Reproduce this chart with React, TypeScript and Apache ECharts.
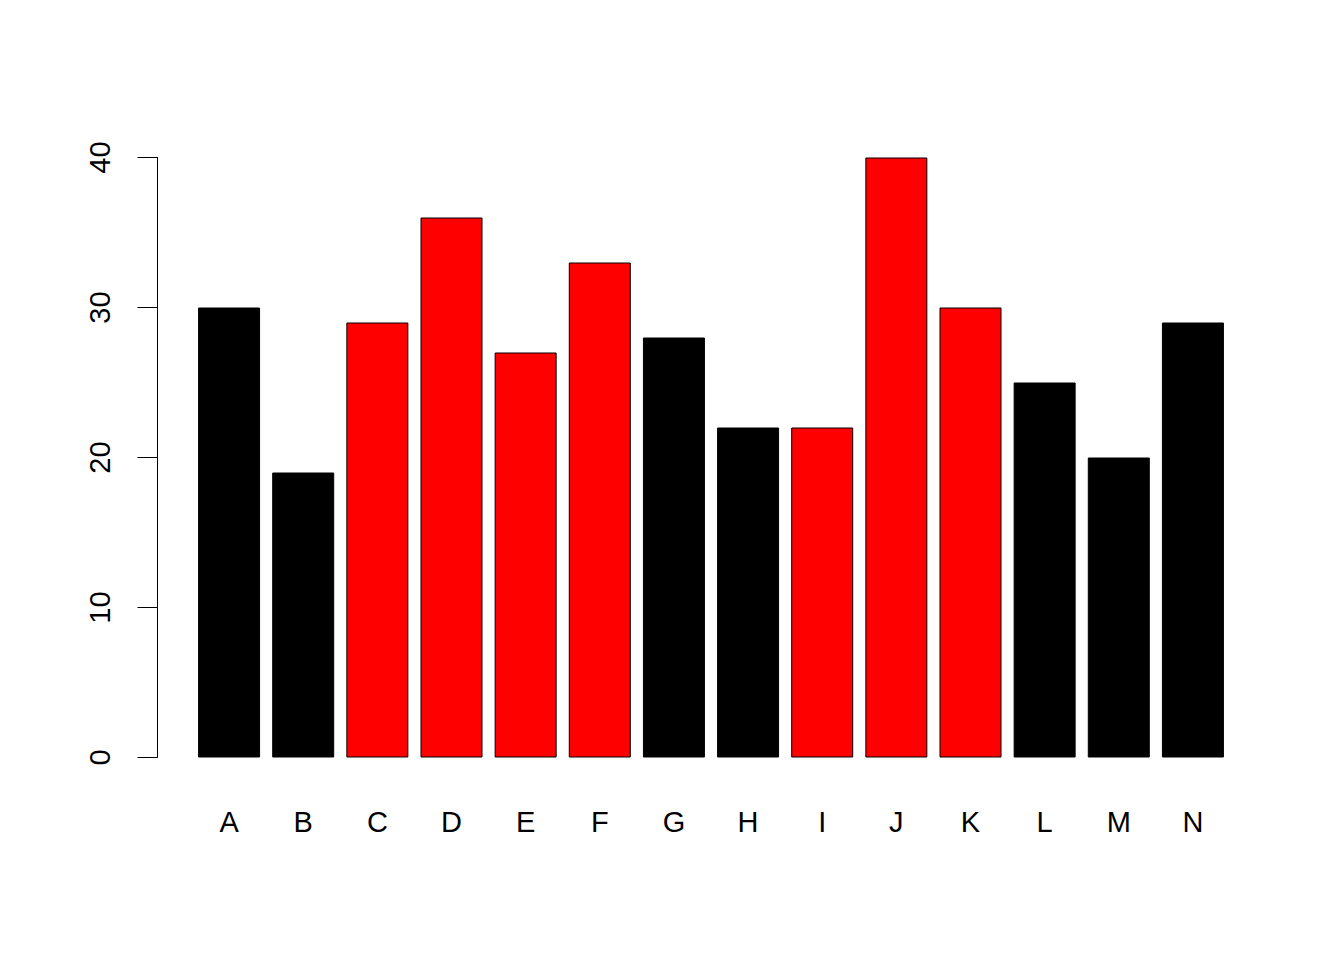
import React, { useEffect, useRef } from "react";
import * as echarts from "echarts";

const categories = ["A", "B", "C", "D", "E", "F", "G", "H", "I", "J", "K", "L", "M", "N"];
const values = [30, 19, 29, 36, 27, 33, 28, 22, 22, 40, 30, 25, 20, 29];
const barColors = ["#000000", "#000000", "#FF0000", "#FF0000", "#FF0000", "#FF0000", "#000000", "#000000", "#FF0000", "#FF0000", "#FF0000", "#000000", "#000000", "#000000"];
const yTicks = [0, 10, 20, 30, 40];

export default function App() {
  const ref = useRef<HTMLDivElement>(null);
  useEffect(() => {
    if (!ref.current) return;
    const chart = echarts.init(ref.current, null, { renderer: "svg" });
    const font = "'Liberation Sans', Arial, Helvetica, sans-serif";
    chart.setOption({
      animation: false,
      backgroundColor: "#ffffff",
      grid: { left: 192, right: 114, top: 157.5, bottom: 202.5, containLabel: false },
      xAxis: {
        type: "category",
        data: categories,
        axisLine: { show: false },
        axisTick: { show: false },
        axisLabel: {
          color: "#000",
          fontSize: 29,
          fontFamily: font,
          margin: 64,
          verticalAlign: "middle",
          interval: 0,
        },
      },
      yAxis: {
        type: "value",
        min: yTicks[0],
        max: yTicks[yTicks.length - 1],
        interval: 10,
        offset: 34.5,
        splitLine: { show: false },
        axisLine: { show: true, lineStyle: { color: "#000", width: 1 } },
        axisTick: { show: true, length: 20, lineStyle: { color: "#000", width: 1 } },
        axisLabel: {
          color: "#000",
          fontSize: 29,
          fontFamily: font,
          rotate: 90,
          margin: 43,
        },
      },
      series: [
        {
          type: "bar",
          data: values.map((v, i) => ({
            value: v,
            itemStyle: { color: barColors[i], borderColor: "#000", borderWidth: 1 },
          })),
          barWidth: 62,
        },
      ],
    });
    return () => chart.dispose();
  }, []);
  return (
    <div
      ref={ref}
      style={{ position: "fixed", left: 0, top: 0, width: 1344, height: 960, background: "#fff" }}
    />
  );
}
